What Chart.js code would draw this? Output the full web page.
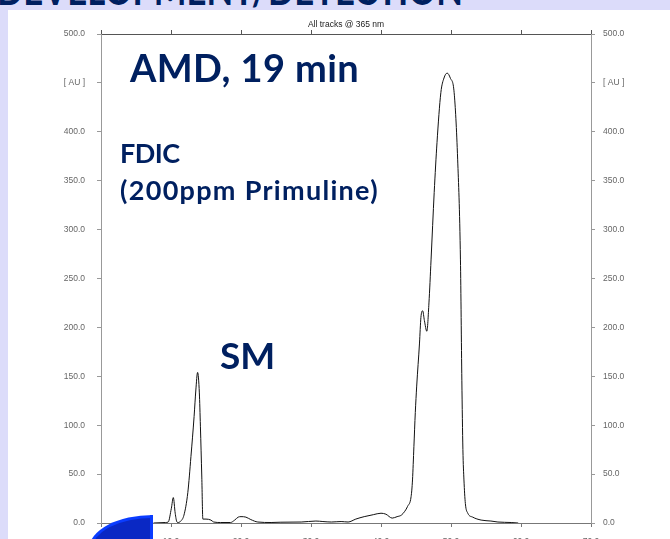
<!DOCTYPE html>
<html><head><meta charset="utf-8">
<script src="https://cdn.jsdelivr.net/npm/chart.js@4.4.1/dist/chart.umd.min.js"></script>
<style>
html,body{margin:0;padding:0;width:670px;height:539px;overflow:hidden;background:#dcdcfa;}
#panel{position:absolute;left:8px;top:10px;width:662px;height:529px;background:#fff}
#c{position:absolute;left:0;top:0}
.t{position:absolute;color:#002060;font-family:Lato,'Noto Sans',sans-serif;font-weight:bold;white-space:nowrap;line-height:1;margin:0}
#blob{position:absolute;left:89px;top:515px;width:58px;height:40px;background:#0a28c4;border:3px solid #0a3cff;border-top-left-radius:64px 34px}
</style></head>
<body>
<div id="panel"></div>
<div class="t" style="left:-3px;top:-32px;font-size:42px;transform:scaleX(0.825);transform-origin:0 0;">DEVELOPMENT/DETECTION</div>
<canvas id="c" width="670" height="560"></canvas>
<div class="t" style="left:130px;top:48px;font-size:38px;letter-spacing:0.4px;">AMD, 19 min</div>
<div class="t" style="left:120px;top:139px;font-size:27px;letter-spacing:-0.5px;">FDIC</div>
<div class="t" style="left:120px;top:176px;font-size:27px;letter-spacing:1.3px;">(200ppm Primuline)</div>
<div class="t" style="left:220px;top:336px;font-size:37px;">SM</div>
<div id="blob"></div>
<script>
// migration distance (mm) and signal (AU)
const distance = [7.5, 9.2, 9.6, 10.05, 10.33, 10.6, 10.85, 11.0, 11.4, 11.85, 12.4, 12.85, 13.3, 13.55, 13.8, 14.05, 14.2, 14.4, 14.55, 15.0, 15.7, 16.1, 17.1, 18.5, 19.1, 19.6, 20.0, 20.7, 21.4, 22.4, 24.3, 25.7, 28.6, 30.7, 31.7, 32.9, 34.3, 35.3, 36.4, 37.6, 38.9, 40.0, 40.7, 41.6, 42.3, 42.9, 43.4, 43.8, 44.3, 44.5, 44.7, 44.9, 45.1, 45.5, 45.7, 45.95, 46.2, 46.55, 46.85, 47.15, 47.6, 48.0, 48.55, 49.0, 49.45, 49.9, 50.45, 50.95, 51.35, 51.55, 51.7, 51.85, 52.05, 52.4, 53.1, 54.3, 55.7, 56.7, 58.6, 59.6];
const signal = [0, 0.5, 1, 15, 26, 10, 1, 0.5, 2, 8, 31, 68, 109, 136, 154, 133, 99, 47, 4, 4, 3, 1, 0.5, 0.5, 3, 6, 6.5, 6, 3.5, 1, 0.5, 0.8, 1, 2, 1.5, 1, 1.5, 1, 4, 6.5, 8.5, 10, 9, 5, 6.5, 8, 12, 17, 27, 44, 78, 113, 140, 184, 210, 217, 207, 196, 225, 269, 338, 389, 440, 455, 460, 455, 440, 372, 269, 146, 75, 44, 20, 10, 6, 3, 2, 1, 0.5, 0];
const xTicks = [0, 10, 20, 30, 40, 50, 60, 70];
const yTicks = [0, 50, 100, 150, 200, 250, 300, 350, 400, 450, 500];
const yUnitLabel = '[ AU ]';
const plotTitle = 'All tracks @ 365 nm';

const tickFont = {family: "'Liberation Sans', Arial, sans-serif", size: 8.5};
function yLabel(v){ return v === 450 ? yUnitLabel : v.toFixed(1); }
function yAxis(pos, width, pad, col){
  return {
    type: 'linear', position: pos, min: 0, max: 500,
    afterBuildTicks: s => { s.ticks = yTicks.map(v => ({value: v})); },
    ticks: {callback: yLabel, font: tickFont, color: '#666', padding: pad},
    grid: {drawOnChartArea: false, drawTicks: true, tickLength: 4, color: col},
    border: {display: true, color: col},
    afterFit: s => { s.width = width; }
  };
}
new Chart(document.getElementById('c'), {
  type: 'line',
  data: {datasets: [{
    data: distance.map((d, i) => ({x: d, y: signal[i]})),
    borderColor: '#111', borderWidth: 1, pointRadius: 0,
    cubicInterpolationMode: 'monotone', fill: false
  }]},
  options: {
    responsive: false, animation: false, devicePixelRatio: 1,
    layout: {padding: 0},
    plugins: {legend: {display: false}, tooltip: {enabled: false}, title: {display: false}},
    scales: {
      x: {
        type: 'linear', position: 'bottom', min: 0, max: 70,
        afterBuildTicks: s => { s.ticks = xTicks.map(v => ({value: v})); },
        ticks: {callback: v => v.toFixed(1), font: tickFont, color: '#666', padding: 10},
        grid: {drawOnChartArea: false, tickLength: 4, color: '#777'},
        border: {display: true, color: '#777'},
        afterFit: s => { s.height = 37; }
      },
      x2: {
        type: 'linear', position: 'top', min: 0, max: 70,
        afterBuildTicks: s => { s.ticks = xTicks.map(v => ({value: v})); },
        ticks: {display: false},
        grid: {drawOnChartArea: false, tickLength: 4, color: '#555'},
        border: {display: true, color: '#555'},
        title: {display: true, text: plotTitle, font: {family: "'Liberation Sans', Arial, sans-serif", size: 8.5}, color: '#222', padding: {top: 20, bottom: 0}},
        afterFit: s => { s.height = 34; }
      },
      y: yAxis('left', 101, 12, '#999'),
      y2: yAxis('right', 79, 8, '#999')
    }
  }
});
</script>
</body></html>
